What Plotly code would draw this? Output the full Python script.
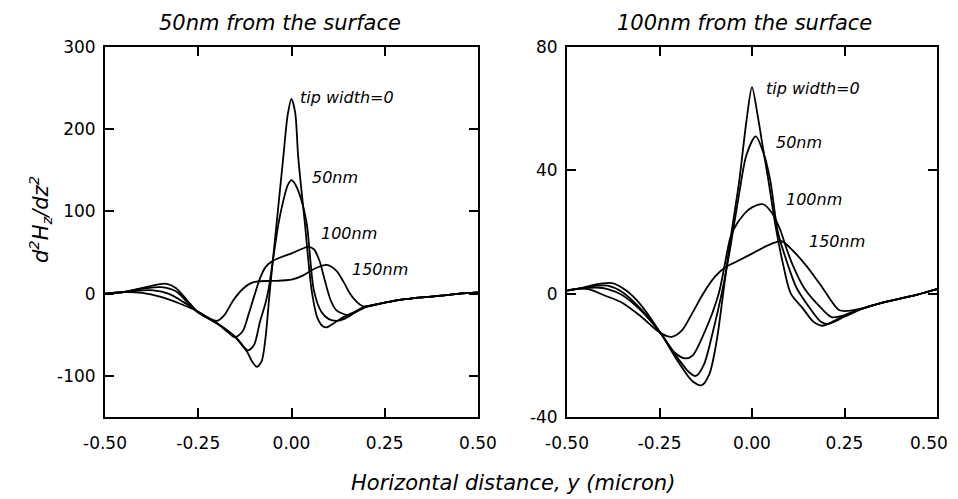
import plotly.graph_objects as go

# ---------------- data ----------------
X_TICKS = [-0.5, -0.25, 0.0, 0.25, 0.5]
X_TICK_TEXT = ["-0.50", "-0.25", "0.00", "0.25", "0.50"]
# last label padded so it stays inside the visible window
X_TICK_TEXT_RIGHT = ["-0.50", "-0.25", "0.00", "0.25", "0.50\u00a0\u00a0\u00a0"]
Y_TICKS_50 = [-100, 0, 100, 200, 300]
Y_TICK_TEXT_50 = ["-100", "0", "100", "200", "300"]
Y_TICKS_100 = [-40, 0, 40, 80]
Y_TICK_TEXT_100 = ["-40", "0", "40", "80"]
LABELS = ["tip width=0", "50nm", "100nm", "150nm"]
PANEL_TITLES = ["50nm from the surface", "100nm from the surface"]

# 50 nm from the surface
x50_w0 = [-0.50, -0.45, -0.40, -0.36, -0.335, -0.31, -0.28, -0.25, -0.20, -0.15, -0.12, -0.105, -0.093,
          -0.08, -0.07, -0.058, -0.04, -0.022, -0.01, 0.0, 0.01, 0.018, 0.036, 0.054, 0.07, 0.085, 0.095,
          0.11, 0.13, 0.16, 0.20, 0.25, 0.30, 0.35, 0.40, 0.45, 0.50]
y50_w0 = [0, 2, 7, 11, 12, 7, -8, -23, -36, -53, -70, -83, -89,
          -82, -55, 4, 85, 166, 218, 237, 220, 166, 85, 4, -30, -40, -41,
          -37, -31, -24, -16, -11, -7, -4.5, -2.5, 0, 1.5]

x50_w50 = [-0.50, -0.45, -0.40, -0.35, -0.31, -0.28, -0.25, -0.20, -0.15, -0.13, -0.116, -0.10, -0.085,
           -0.07, -0.062, -0.05, -0.035, -0.022, -0.01, 0.0, 0.01, 0.027, 0.041, 0.06, 0.08, 0.10, 0.122,
           0.14, 0.16, 0.19, 0.25, 0.30, 0.35, 0.40, 0.45, 0.50]
y50_w50 = [0, 2, 6, 8, 3, -10, -23, -36, -53, -64, -69, -62, -35,
           -12, 4, 40, 85, 113, 132, 138, 133, 113, 85, 4, -22, -31, -33,
           -31, -26, -17, -11, -7, -4.5, -2.5, 0, 1.5]

x50_w100 = [-0.50, -0.45, -0.40, -0.37, -0.33, -0.29, -0.25, -0.20, -0.17, -0.151, -0.13, -0.115, -0.10,
            -0.085, -0.07, -0.053, -0.03, 0.0, 0.02, 0.045, 0.06, 0.075, 0.09, 0.105, 0.12, 0.15, 0.17,
            0.20, 0.25, 0.30, 0.35, 0.40, 0.45, 0.50]
y50_w100 = [0, 2, 4, 4, 0, -10, -22, -36, -47, -53, -45, -25, -3,
            18, 32, 39, 44, 49, 53, 57, 54, 40, 15, -8, -20, -26, -23,
            -16, -11, -7, -4.5, -2.5, 0, 1.5]

x50_w150 = [-0.50, -0.45, -0.40, -0.35, -0.30, -0.25, -0.22, -0.20, -0.18, -0.156, -0.13, -0.11, -0.09,
            -0.05, 0.0, 0.03, 0.06, 0.094, 0.12, 0.14, 0.157, 0.175, 0.19, 0.21, 0.25, 0.30, 0.35,
            0.40, 0.45, 0.50]
y50_w150 = [0, 2, 1, -4, -12, -22, -30, -33, -26, -8, 6, 12.5, 15,
            15.5, 17, 22, 30, 35, 28, 14, 0, -10, -15, -15, -11, -7, -4.5,
            -2.5, 0, 1.5]

# 100 nm from the surface
x100_w0 = [-0.50, -0.468, -0.43, -0.378, -0.34, -0.30, -0.247, -0.20, -0.16, -0.136, -0.115, -0.095, -0.078,
           -0.061, -0.045, -0.034, -0.015, 0.0, 0.015, 0.03, 0.044, 0.065, 0.085, 0.105, 0.139, 0.165, 0.19,
           0.22, 0.25, 0.30, 0.35, 0.40, 0.45, 0.50]
y100_w0 = [1, 1.6, 2.8, 3.4, 1, -3.7, -12.8, -22, -28.5, -29.7, -26, -15, 0,
           15.5, 28, 37, 56, 67, 58, 47, 37, 21, 9, 0, -5, -9, -10.4,
           -9, -7, -4.8, -3, -1.6, -0.2, 1.5]

x100_w50 = [-0.50, -0.468, -0.42, -0.39, -0.35, -0.30, -0.247, -0.20, -0.17, -0.152, -0.13, -0.105, -0.082,
            -0.06, -0.034, -0.015, 0.01, 0.03, 0.049, 0.07, 0.098, 0.12, 0.157, 0.185, 0.205, 0.25, 0.30,
            0.35, 0.40, 0.45, 0.50]
y100_w50 = [1, 1.6, 2.6, 2.6, 0.5, -5, -12.8, -21, -25.5, -26.7, -23, -12, 0,
            14, 33, 45, 51, 46, 37, 20, 9, 2, -4.8, -9, -9.8, -7.5, -4.8,
            -3, -1.6, -0.2, 1.5]

x100_w100 = [-0.50, -0.468, -0.42, -0.39, -0.35, -0.30, -0.247, -0.21, -0.18, -0.16, -0.13, -0.09, -0.06,
             -0.05, -0.02, 0.0, 0.03, 0.055, 0.076, 0.095, 0.111, 0.14, 0.188, 0.215, 0.25, 0.30, 0.35,
             0.40, 0.45, 0.50]
y100_w100 = [1, 1.6, 2, 1.5, -0.5, -5.5, -12.8, -19, -21, -20, -13, 0, 17.6,
             20.8, 26, 28, 29, 26, 20.8, 14, 9, 2, -4.8, -7.6, -7, -4.8, -3,
             -1.6, -0.2, 1.5]

x100_w150 = [-0.50, -0.468, -0.44, -0.40, -0.35, -0.30, -0.247, -0.217, -0.19, -0.16, -0.132, -0.10, -0.073,
             -0.04, 0.0, 0.04, 0.08, 0.11, 0.147, 0.19, 0.235, 0.26, 0.297, 0.35, 0.40, 0.45, 0.50]
y100_w150 = [1, 1.6, 1.4, -0.5, -3, -7.4, -12.8, -14, -12, -6, 0, 5.5, 8.5,
             10.5, 13, 15.5, 17, 14, 9, 2, -5.3, -5.6, -4.8, -3, -1.6, -0.2, 1.5]

# label anchor positions (data coordinates)
LAB50_X = [0.017, 0.05, 0.074, 0.157]
LAB50_Y = [239, 141, 73, 30]
LAB100_X = [0.032, 0.059, 0.086, 0.149]
LAB100_Y = [66.6, 49, 30.4, 17]

# ---------------- figure ----------------
FONT = "DejaVu Sans"
fig = go.Figure()

panel50 = [(x50_w0, y50_w0), (x50_w50, y50_w50), (x50_w100, y50_w100), (x50_w150, y50_w150)]
panel100 = [(x100_w0, y100_w0), (x100_w50, y100_w50), (x100_w100, y100_w100), (x100_w150, y100_w150)]

for (xs, ys), name in zip(panel50, LABELS):
    fig.add_trace(go.Scatter(x=xs, y=ys, mode="lines", name=name, xaxis="x", yaxis="y",
                             line=dict(color="black", width=1.8, shape="spline", smoothing=0.8),
                             showlegend=False))
for (xs, ys), name in zip(panel100, LABELS):
    fig.add_trace(go.Scatter(x=xs, y=ys, mode="lines", name=name, xaxis="x2", yaxis="y2",
                             line=dict(color="black", width=1.8, shape="spline", smoothing=0.8),
                             showlegend=False))

# The page body has an 8px margin: size the figure so it fills the rest of the window.
OFF = 8
W, H = 958 - OFF, 499 - OFF


def px(v):
    return (v - OFF) / W


def py(v):
    return 1 - (v - OFF) / H


ydom = [py(417), py(47)]

axis_common = dict(showline=True, linecolor="black", linewidth=1.8, mirror="ticks",
                   ticks="inside", ticklen=9, tickwidth=1.5, tickcolor="black",
                   showgrid=False, zeroline=False, automargin=False, ticklabeloverflow="allow",
                   tickfont=dict(family=FONT, size=17, color="black"))

fig.update_layout(
    width=W, height=H,
    margin=dict(l=0, r=0, t=0, b=0, autoexpand=False),
    paper_bgcolor="white", plot_bgcolor="white",
    xaxis=dict(domain=[px(105), px(478)], range=[-0.5, 0.5], tickvals=X_TICKS, ticktext=X_TICK_TEXT,
               anchor="y", ticklabelstandoff=10, **axis_common),
    yaxis=dict(domain=ydom, range=[-150, 300], tickvals=Y_TICKS_50, ticktext=Y_TICK_TEXT_50,
               anchor="x", ticklabelstandoff=4, **axis_common),
    xaxis2=dict(domain=[px(567), px(937)], range=[-0.5, 0.5], tickvals=X_TICKS, ticktext=X_TICK_TEXT_RIGHT,
                anchor="y2", ticklabelstandoff=10, **axis_common),
    yaxis2=dict(domain=ydom, range=[-40, 80], tickvals=Y_TICKS_100, ticktext=Y_TICK_TEXT_100,
                anchor="x2", ticklabelstandoff=4, **axis_common),
)

ann = []
for lx, ly, t in zip(LAB50_X, LAB50_Y, LABELS):
    ann.append(dict(x=lx, y=ly, xref="x", yref="y", text=f"<i>{t}</i>", showarrow=False,
                    xanchor="left", yanchor="middle", font=dict(family=FONT, size=16, color="black")))
for lx, ly, t in zip(LAB100_X, LAB100_Y, LABELS):
    ann.append(dict(x=lx, y=ly, xref="x2", yref="y2", text=f"<i>{t}</i>", showarrow=False,
                    xanchor="left", yanchor="middle", font=dict(family=FONT, size=16, color="black")))

ann.append(dict(x=px(280), y=py(23), xref="paper", yref="paper", text=f"<i>{PANEL_TITLES[0]}</i>",
                showarrow=False, xanchor="center", yanchor="middle",
                font=dict(family=FONT, size=21, color="black")))
ann.append(dict(x=px(744), y=py(23), xref="paper", yref="paper", text=f"<i>{PANEL_TITLES[1]}</i>",
                showarrow=False, xanchor="center", yanchor="middle",
                font=dict(family=FONT, size=21, color="black")))
ann.append(dict(x=px(513), y=py(483), xref="paper", yref="paper",
                text="<i>Horizontal distance, y (micron)</i>",
                showarrow=False, xanchor="center", yanchor="middle",
                font=dict(family=FONT, size=21, color="black")))
ann.append(dict(x=px(40), y=py(220), xref="paper", yref="paper",
                text="<i>d<sup>2</sup>H<sub>z</sub>/dz<sup>2</sup></i>", textangle=-90,
                showarrow=False, xanchor="center", yanchor="middle",
                font=dict(family=FONT, size=21, color="black")))
fig.update_layout(annotations=ann)

fig.write_html("out.html")
